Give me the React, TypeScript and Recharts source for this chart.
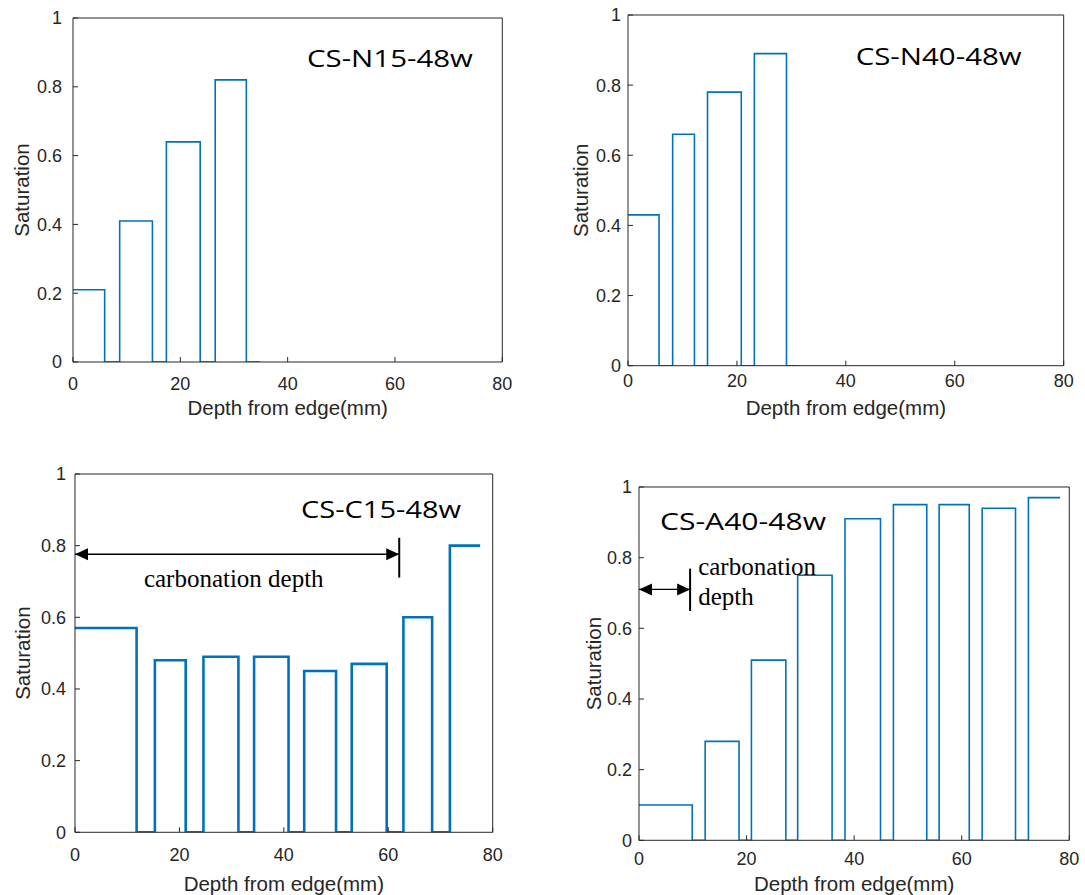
import { LineChart, Line, XAxis, YAxis, ReferenceLine, ReferenceDot } from 'recharts';

// step profiles: saturation holds from each depth to the next one
const n15Depth = [0, 5.9, 8.7, 14.8, 17.4, 23.7, 26.5, 32.3, 34.9];
const n15Sat = [0.21, 0, 0.41, 0, 0.64, 0, 0.82, 0, 0];

const n40Depth = [0, 5.7, 8.2, 12.2, 14.6, 20.8, 23.2, 29.1, 31.4];
const n40Sat = [0.43, 0, 0.66, 0, 0.78, 0, 0.89, 0, 0];

const c15Depth = [0, 11.8, 15.3, 21.2, 24.6, 31.3, 34.3, 40.9, 43.9, 50.0, 53.0, 59.7, 62.9, 68.4, 71.8, 77.6];
const c15Sat = [0.57, 0, 0.48, 0, 0.49, 0, 0.49, 0, 0.45, 0, 0.47, 0, 0.6, 0, 0.8, 0.8];

const a40Depth = [0, 9.9, 12.3, 18.6, 20.9, 27.3, 29.5, 35.9, 38.3, 44.9, 47.3, 53.5, 55.8, 61.4, 63.8, 70.0, 72.4, 78.3];
const a40Sat = [0.1, 0, 0.28, 0, 0.51, 0, 0.75, 0, 0.91, 0, 0.95, 0, 0.95, 0, 0.94, 0, 0.97, 0.97];

const xTicks = [0, 20, 40, 60, 80];
const yTicks = [0, 0.2, 0.4, 0.6, 0.8, 1];

const AXIS = '#262626';
const BLUE = '#0072BD';
const SANS = '"Liberation Sans", Arial, sans-serif';
const SERIF = '"Liberation Serif", "Times New Roman", serif';
const TITLE_FONT = '"Open Sans", sans-serif';

const ML = 70;
const MT = 10;
const MR = 10;
const MB = 70;

const panels = [
  {
    title: 'CS-N15-48w', titleX: 43.6, titleY: 0.857, titleW: 166,
    depth: n15Depth, sat: n15Sat, lineWidth: 1.6,
    left: 72.7, top: 18, width: 429.3, height: 344,
    xTickGap: 21, yTickGap: 11, xLabelGap: 46, yLabelGap: 51,
  },
  {
    title: 'CS-N40-48w', titleX: 41.8, titleY: 0.857, titleW: 166,
    depth: n40Depth, sat: n40Sat, lineWidth: 1.6,
    left: 628.3, top: 15, width: 435.7, height: 350.7,
    xTickGap: 15, yTickGap: 7, xLabelGap: 42, yLabelGap: 47,
  },
  {
    title: 'CS-C15-48w', titleX: 43.3, titleY: 0.876, titleW: 160,
    depth: c15Depth, sat: c15Sat, lineWidth: 2.6,
    left: 75, top: 474, width: 417.7, height: 358.3,
    xTickGap: 22, yTickGap: 9, xLabelGap: 51, yLabelGap: 52,
    arrow: { to: 62.1, y: 0.776, lo: 0.711, hi: 0.822 },
    notes: [{ text: 'carbonation depth', x: 13.2, y: 0.685 }],
  },
  {
    title: 'CS-A40-48w', titleX: 3.9, titleY: 0.879, titleW: 166,
    depth: a40Depth, sat: a40Sat, lineWidth: 1.6,
    left: 639, top: 486.7, width: 430.3, height: 353.3,
    xTickGap: 18, yTickGap: 7, xLabelGap: 43, yLabelGap: 45,
    arrow: { to: 9.5, y: 0.71, lo: 0.649, hi: 0.769 },
    notes: [
      { text: 'carbonation', x: 11.0, y: 0.75 },
      { text: 'depth', x: 11.0, y: 0.665 },
    ],
  },
];

function XLabel({ viewBox, gap }: any) {
  const cx = viewBox.x + viewBox.width / 2;
  const cy = viewBox.y + gap;
  return (
    <text x={cx} y={cy} textAnchor="middle" dominantBaseline="central" fill={AXIS} fontSize={20.5} fontFamily={SANS}>
      Depth from edge(mm)
    </text>
  );
}

function YLabel({ viewBox, gap }: any) {
  const cx = viewBox.x + viewBox.width - gap;
  const cy = viewBox.y + viewBox.height / 2;
  return (
    <text x={cx} y={cy} transform={`rotate(-90 ${cx} ${cy})`} textAnchor="middle" dominantBaseline="central" fill={AXIS} fontSize={20.5} fontFamily={SANS}>
      Saturation
    </text>
  );
}

function textShape(text: string, size: number, family: string, width?: number) {
  return (s: any) => (
    <text
      x={s.cx}
      y={s.cy}
      fill="#000"
      fontSize={size}
      fontFamily={family}
      textLength={width}
      lengthAdjust={width ? 'spacingAndGlyphs' : undefined}
    >
      {text}
    </text>
  );
}

function SatChart({ p }: any) {
  const data = p.depth.map((d: number, i: number) => ({ depth: d, sat: p.sat[i] }));
  const tickStyle = { fill: AXIS, fontSize: 18, fontFamily: SANS };
  return (
    <div style={{ position: 'absolute', left: p.left - ML, top: p.top - MT }}>
      <LineChart
        width={p.width + ML + MR}
        height={p.height + MT + MB}
        data={data}
        margin={{ top: MT - 1, right: MR - 1, bottom: 0, left: 0 }}
      >
        <XAxis
          dataKey="depth"
          type="number"
          domain={[0, 80]}
          ticks={xTicks}
          interval={0}
          allowDataOverflow
          height={MB}
          stroke={AXIS}
          tickSize={-5}
          tickMargin={p.xTickGap - 1}
          tick={tickStyle}
          label={<XLabel gap={p.xLabelGap} />}
        />
        <XAxis
          xAxisId="top"
          orientation="top"
          type="number"
          domain={[0, 80]}
          ticks={xTicks}
          interval={0}
          allowDataOverflow
          height={1}
          stroke={AXIS}
          tickSize={-5}
          tick={false}
        />
        <YAxis
          type="number"
          domain={[0, 1]}
          ticks={yTicks}
          interval={0}
          allowDataOverflow
          width={ML}
          stroke={AXIS}
          tickSize={-5}
          tickMargin={p.yTickGap + 5}
          tick={tickStyle}
          label={<YLabel gap={p.yLabelGap} />}
        />
        <YAxis
          yAxisId="right"
          orientation="right"
          type="number"
          domain={[0, 1]}
          ticks={yTicks}
          interval={0}
          allowDataOverflow
          width={1}
          stroke={AXIS}
          tickSize={-5}
          tick={false}
        />
        <Line
          type="stepAfter"
          dataKey="sat"
          stroke={BLUE}
          strokeWidth={p.lineWidth}
          dot={false}
          isAnimationActive={false}
        />
        {p.arrow && (
          <ReferenceLine
            segment={[{ x: 0, y: p.arrow.y }, { x: p.arrow.to, y: p.arrow.y }]}
            stroke="#000"
            strokeWidth={1.3}
          />
        )}
        {p.arrow && (
          <ReferenceLine
            segment={[{ x: p.arrow.to, y: p.arrow.lo }, { x: p.arrow.to, y: p.arrow.hi }]}
            stroke="#000"
            strokeWidth={2}
          />
        )}
        {p.arrow && (
          <ReferenceDot
            x={0}
            y={p.arrow.y}
            r={0}
            shape={(s: any) => (
              <polygon points={`${s.cx},${s.cy} ${s.cx + 13},${s.cy - 6} ${s.cx + 13},${s.cy + 6}`} fill="#000" />
            )}
          />
        )}
        {p.arrow && (
          <ReferenceDot
            x={p.arrow.to}
            y={p.arrow.y}
            r={0}
            shape={(s: any) => (
              <polygon points={`${s.cx},${s.cy} ${s.cx - 13},${s.cy - 6} ${s.cx - 13},${s.cy + 6}`} fill="#000" />
            )}
          />
        )}
        {(p.notes || []).map((n: any) => (
          <ReferenceDot key={n.text} x={n.x} y={n.y} r={0} shape={textShape(n.text, 25, SERIF)} />
        ))}
        <ReferenceDot x={p.titleX} y={p.titleY} r={0} shape={textShape(p.title, 24, TITLE_FONT, p.titleW)} />
      </LineChart>
    </div>
  );
}

export default function App() {
  return (
    <div style={{ position: 'absolute', left: 0, top: 0, width: 1085, height: 895, background: '#fff' }}>
      {panels.map((p) => (
        <SatChart key={p.title} p={p} />
      ))}
    </div>
  );
}
